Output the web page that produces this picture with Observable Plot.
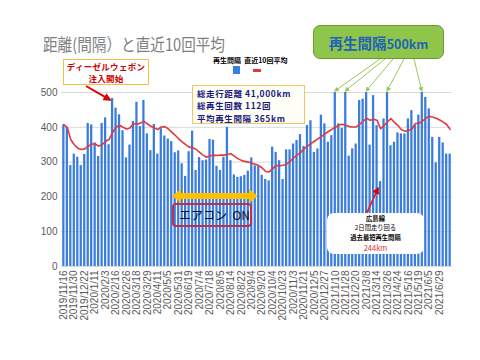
<!DOCTYPE html>
<html><head><meta charset="utf-8">
<script src="https://cdn.jsdelivr.net/npm/d3@7"></script>
<script src="https://cdn.jsdelivr.net/npm/@observablehq/plot@0.6"></script>
<style>
body{margin:0;background:#fff;}
#wrap{position:relative;width:480px;height:360px;overflow:hidden;font-family:"Noto Sans CJK JP",sans-serif;}
.ov{position:absolute;white-space:nowrap;box-sizing:border-box;}
.ln{display:block;}
</style></head><body><div id="wrap"></div>
<script>
// tick labels (every 3rd regeneration)
const labels = ["2019/11/16","2019/11/30","2019/12/22","2020/1/11","2020/2/3","2020/2/16","2020/2/26","2020/3/18","2020/3/29","2020/4/11","2020/5/5","2020/5/31","2020/6/19","2020/7/4","2020/7/18","2020/8/5","2020/8/14","2020/8/22","2020/9/4","2020/9/20","2020/10/4","2020/10/23","2020/11/3","2020/11/21","2020/12/5","2020/12/27","2021/1/10","2021/1/28","2021/2/20","2021/3/8","2021/3/14","2021/3/26","2021/4/24","2021/5/16","2021/5/19","2021/6/5","2021/6/29"];
// regeneration interval (km)
const values = [407,400,290,323,314,290,322,411,407,355,
316,411,427,350,483,455,436,390,312,349,
417,472,402,477,381,333,408,323,396,375,
366,359,327,332,295,259,330,389,276,313,
304,306,365,363,288,276,314,400,304,263,
256,258,262,274,312,289,287,262,250,246,
343,328,304,250,335,335,352,362,379,345,
405,419,328,338,435,410,357,376,500,410,
397,500,317,338,352,477,481,500,349,491,
405,244,424,500,347,357,384,381,381,424,
448,405,435,500,486,453,371,298,371,355,
323,323];
// last-10 average (km)
const avg = [408,399,364,350,340,336,338,345,352,352,
346,350,360,365,385,400,406,400,395,398,
411,409,412,417,410,403,398,394,401,402,
396,386,377,367,358,350,343,341,337,328,
320,314,318,320,319,320,320,322,324,317,
310,305,302,300,297,294,290,283,273,272,
281,290,290,291,294,302,312,320,327,338,
346,353,360,367,373,381,388,394,400,406,
409,406,402,401,401,408,418,426,420,423,
420,396,405,416,425,414,405,393,389,390,
395,411,411,418,426,432,429,426,421,415,
408,394];
const yTicks = [0,100,200,300,400,500];
const peakBars = [78,81,87,93,103];
const dieselBar = 14;
const minBar = 91;

const idx = d3.range(values.length);
const data = idx.map(i => ({i, v: values[i], a: avg[i]}));

const chart = Plot.plot({
  width: 480, height: 360,
  marginTop: 92, marginBottom: 94, marginLeft: 61, marginRight: 28,
  style: {fontFamily: "'Liberation Sans', Arial, sans-serif", fontSize: "10px", color: "#595959", background: "transparent"},
  x: {type: "band", domain: idx, padding: 0.35, tickRotate: -90, tickSize: 0, tickPadding: 4,
      tickFormat: i => i % 3 === 0 ? labels[i / 3] : "", label: null},
  y: {domain: [0, 500], ticks: yTicks, tickSize: 0, tickPadding: 4, label: null},
  marks: [
    Plot.ruleY(yTicks, {stroke: "#d9d9d9"}),
    Plot.barY(data, {x: "i", y: "v", fill: "#3b7ddd"}),
    Plot.line(data, {x: "i", y: "a", stroke: "#e0393e", strokeWidth: 1.6})
  ]
});
const wrap = document.getElementById("wrap");
chart.style.position = "absolute"; chart.style.left = "0"; chart.style.top = "0";
wrap.appendChild(chart);

const xs = chart.scale("x"), ys = chart.scale("y");
const cx = i => xs.apply(i) + xs.bandwidth / 2;
const cy = v => ys.apply(v);

// overlay annotations
const ns = "http://www.w3.org/2000/svg";
const svg = document.createElementNS(ns, "svg");
svg.setAttribute("width", 480); svg.setAttribute("height", 360);
svg.style.position = "absolute"; svg.style.left = "0"; svg.style.top = "0";
svg.innerHTML = `<defs>
<marker id="ar" viewBox="0 0 10 10" refX="8" refY="5" markerWidth="4" markerHeight="4" orient="auto"><path d="M0,0L10,5L0,10z" fill="#e00000"/></marker>
<marker id="ag" viewBox="0 0 10 10" refX="8" refY="5" markerWidth="5" markerHeight="5" orient="auto"><path d="M0,0L10,5L0,10z" fill="#9bc75a"/></marker>
</defs>`;
function line(x1,y1,x2,y2,stroke,w,marker){
  const l = document.createElementNS(ns,"line");
  l.setAttribute("x1",x1);l.setAttribute("y1",y1);l.setAttribute("x2",x2);l.setAttribute("y2",y2);
  l.setAttribute("stroke",stroke);l.setAttribute("stroke-width",w);
  if(marker) l.setAttribute("marker-end",`url(#${marker})`);
  svg.appendChild(l);
}
line(86, 86, cx(dieselBar) - 2, cy(values[dieselBar]) + 2, "#e00000", 2, "ar");
const starts = [380, 385, 393, 404, 414];
peakBars.forEach((b, j) => line(starts[j], 59, cx(b), cy(values[b]) - 1, "#9bc75a", 1, "ag"));
line(365, 217, cx(minBar) - 2, cy(values[minBar]) + 7, "#e8202a", 1.8, "ar");
// yellow double arrow
const ya = document.createElementNS(ns, "polygon");
ya.setAttribute("points", "172,196 181,189 181,193 249,193 249,189 258,196 249,203 249,199 181,199 181,203");
ya.setAttribute("fill", "#ffc000");
svg.appendChild(ya);
wrap.appendChild(svg);

function div(html, css){ const d = document.createElement("div"); d.className = "ov"; d.innerHTML = html; d.style.cssText += css; wrap.appendChild(d); return d; }
div("距離(間隔）と直近10回平均", "left:43px;top:31px;font-size:17px;color:#7f7f7f;transform:scaleX(0.86);transform-origin:left;");
div("<span class='ln' style='height:12px'>ディーゼルウェポン</span><span class='ln'>注入開始</span>", "left:63px;top:59px;width:86px;height:26px;border:1px solid #f0c040;background:#fff;color:#d00000;font-weight:bold;font-size:8.5px;line-height:12px;text-align:center;padding-top:0px;letter-spacing:0.3px;");
div("再生間隔&nbsp;&nbsp;直近10回平均", "left:213px;top:55px;font-size:7px;font-weight:bold;color:#000;");
div("", "left:233px;top:66px;width:7px;height:8px;background:#3b7ddd;");
div("", "left:253px;top:69px;width:8px;height:3px;background:#e0393e;");
div("<span style='font-size:14.5px'>再生間隔</span><span style='font-size:12.5px'>500km</span>", "left:313px;top:25px;width:131px;height:34px;background:#8fc54a;border:1px solid #6b9a35;border-radius:7px;color:#2063b8;font-weight:bold;text-align:center;line-height:32px;");
div("<span class='ln'>総走行距離&nbsp;<span style='font-weight:600;font-size:8.5px'>41,000km</span></span><span class='ln'>総再生回数&nbsp;<span style='font-weight:600;font-size:8.5px'>112回</span></span><span class='ln'>平均再生間隔&nbsp;<span style='font-weight:600;font-size:8.5px'>365km</span></span>", "left:192px;top:85px;width:113px;height:39px;border:1px solid #f0c860;background:#fffef6;color:#1a1a80;font-weight:bold;font-size:8.5px;line-height:12.3px;padding:1px 0 0 4px;letter-spacing:0.6px;");
div("エアコン&nbsp;&nbsp;ON", "left:172px;top:203px;width:80px;height:24px;border:2px solid #c0304a;border-radius:4px;color:#111;font-size:12px;line-height:20px;padding-left:5px;");
div("<span class='ln' style='font-weight:bold'>広島線</span><span class='ln'>2日間走り回る</span><span class='ln' style='font-weight:bold'>過去最短再生間隔</span><span class='ln' style='color:#e03030;font-size:7.5px;line-height:11px'>244km</span>", "left:327px;top:213px;width:97px;height:41px;background:#fff;border-radius:7px;color:#000;font-size:6.3px;line-height:9.3px;text-align:center;padding-top:1px;");
</script></body></html>
